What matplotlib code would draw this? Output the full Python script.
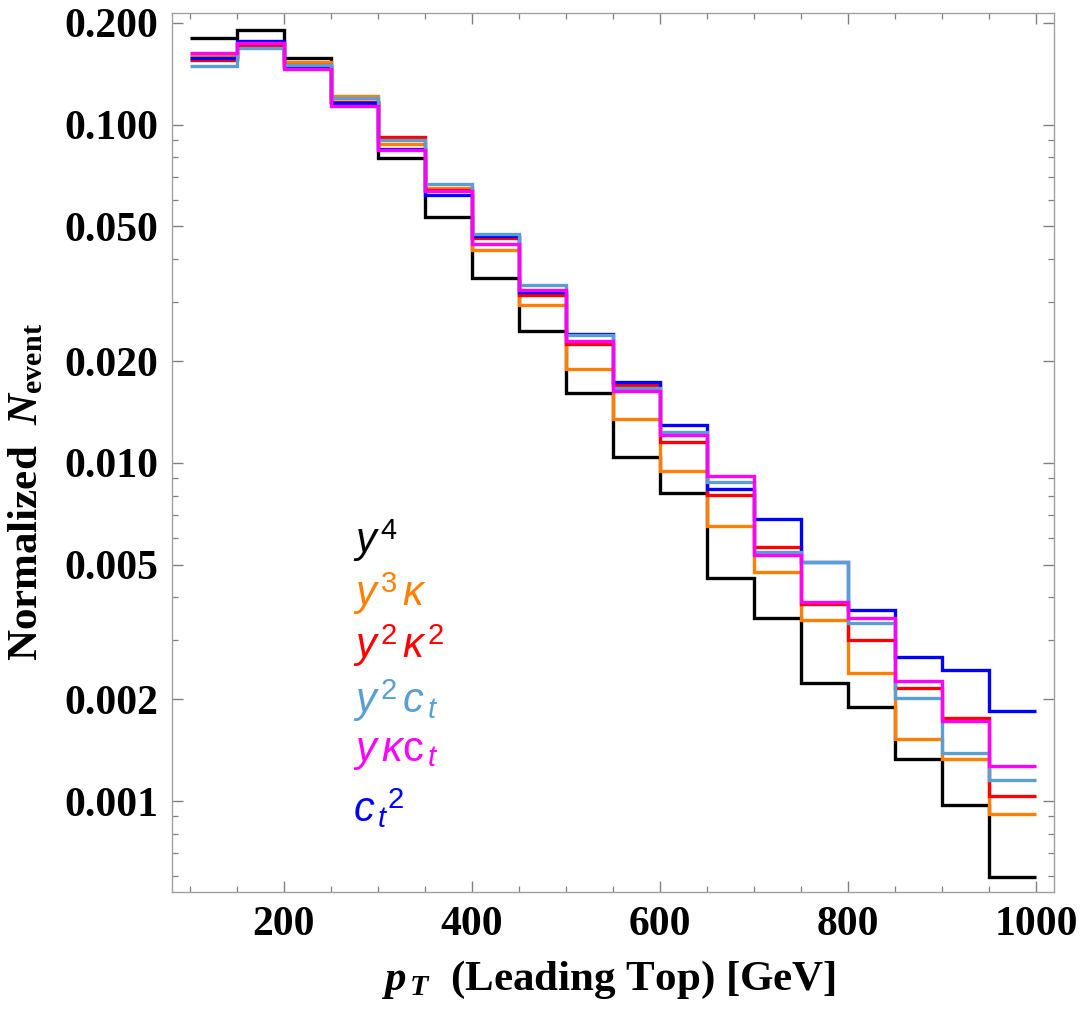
import matplotlib
matplotlib.use("Agg")
import matplotlib.pyplot as plt
from matplotlib.ticker import FixedLocator, FixedFormatter, NullFormatter

plt.rcParams["mathtext.fontset"] = "custom"
plt.rcParams["mathtext.rm"] = "Liberation Serif:bold"
plt.rcParams["mathtext.it"] = "Liberation Serif:italic:bold"
plt.rcParams["mathtext.bf"] = "Liberation Sans:italic"
plt.rcParams["mathtext.sf"] = "Liberation Sans"

# bin edges in GeV
bin_edges = [100, 150, 200, 250, 300, 350, 400, 450, 500, 550,
             600, 650, 700, 750, 800, 850, 900, 950, 1000]

y4 = [0.180, 0.190, 0.157, 0.117, 0.0795, 0.0533, 0.0353, 0.0246, 0.0161,
      0.0104, 0.00813, 0.00456, 0.00348, 0.00224, 0.00190, 0.00133, 0.000973, 0.000597]
y3k = [0.160, 0.174, 0.1536, 0.1218, 0.0879, 0.0648, 0.0425, 0.0293, 0.0190,
       0.0135, 0.00945, 0.00652, 0.00476, 0.00343, 0.00239, 0.00153, 0.00133, 0.000915]
y2k2 = [0.1553, 0.1718, 0.150, 0.1164, 0.0917, 0.0640, 0.0463, 0.0313, 0.02245,
        0.0170, 0.0115, 0.00806, 0.00565, 0.00382, 0.00300, 0.00216, 0.00176, 0.001035]
y2ct = [0.1495, 0.1686, 0.1498, 0.1196, 0.0899, 0.0670, 0.0475, 0.0335, 0.0239,
        0.01664, 0.01233, 0.00877, 0.00544, 0.00510, 0.00337, 0.00202, 0.00139, 0.00115]
ykct = [0.163, 0.1746, 0.146, 0.1138, 0.0843, 0.0635, 0.0444, 0.0325, 0.0230,
        0.01633, 0.0121, 0.00915, 0.00535, 0.00389, 0.00347, 0.00226, 0.00172, 0.00127]
ct2 = [0.157, 0.1764, 0.148, 0.116, 0.0849, 0.0618, 0.0470, 0.0321, 0.0240,
       0.0174, 0.01296, 0.00836, 0.00681, 0.00510, 0.00366, 0.00266, 0.00244, 0.00185]

labels = [
    r"$\mathbf{y}^{\,\mathsf{4}}$",
    r"$\mathbf{y}^{\,\mathsf{3}}\,\mathbf{\kappa}$",
    r"$\mathbf{y}^{\,\mathsf{2}}\,\mathbf{\kappa}^{\,\mathsf{2}}$",
    r"$\mathbf{y}^{\,\mathsf{2}}\,\mathbf{c}_{\,\mathbf{t}}$",
    r"$\mathbf{y}\,\mathbf{\kappa}\mathsf{c}_{\,\mathbf{t}}$",
    r"$\mathbf{c}_{\,\mathbf{t}}{}^{\mathsf{2}}$",
]
series = [y4, y3k, y2k2, y2ct, ykct, ct2]
colors = ["#000000", "#ff8000", "#ff0000", "#5a9fd4", "#ff00ff", "#0000ff"]
draw_order = [0, 1, 2, 5, 3, 4]

y_ticks = [0.001, 0.002, 0.005, 0.01, 0.02, 0.05, 0.1, 0.2]
y_tick_labels = ["0.001", "0.002", "0.005", "0.010", "0.020", "0.050", "0.100", "0.200"]

fig = plt.figure(figsize=(10.84, 10.13), dpi=100)
ax = fig.add_axes([0.1587, 0.1194, 0.8136, 0.8678])

for i in draw_order:
    ax.stairs(series[i], bin_edges, baseline=None, color=colors[i], linewidth=2.4)

ax.set_yscale("log")
ax.set_xlim(81, 1019)
ax.set_ylim(0.000538, 0.214)

ax.xaxis.set_major_locator(FixedLocator([200, 400, 600, 800, 1000]))
ax.xaxis.set_minor_locator(FixedLocator(bin_edges))
ax.yaxis.set_major_locator(FixedLocator(y_ticks))
ax.yaxis.set_major_formatter(FixedFormatter(y_tick_labels))
minor_y = [0.0006, 0.0007, 0.0008, 0.0009, 0.003, 0.004, 0.006, 0.007, 0.008, 0.009,
           0.03, 0.04, 0.06, 0.07, 0.08, 0.09]
ax.yaxis.set_minor_locator(FixedLocator(minor_y))
ax.yaxis.set_minor_formatter(NullFormatter())

for s in ax.spines.values():
    s.set_color("#a0a0a0")
    s.set_linewidth(1.0)

ax.tick_params(which="both", direction="in", top=True, right=True, color="#808080")
ax.tick_params(which="major", length=8, width=1.0, pad=10)
ax.tick_params(which="minor", length=4.5, width=0.9)
for lab in ax.get_xticklabels() + ax.get_yticklabels():
    lab.set_fontfamily("Liberation Serif")
    lab.set_fontweight("bold")
    lab.set_fontsize(30)

fig.text(0.561, 1 - 980 / 1013, r"$p_{\,T}$  (Leading Top) [GeV]", ha="center",
         va="center", fontsize=31, fontfamily="Liberation Serif", fontweight="bold")
fig.text(27 / 1084, 1 - 492 / 1013, r"Normalized  $N_{\mathrm{event}}$", rotation=90,
         ha="center", va="center", fontsize=31, fontfamily="Liberation Serif",
         fontweight="bold")

baselines = [553, 606, 658, 713, 761, 822]
for lab, col, yb in zip(labels, colors, baselines):
    fig.text(353 / 1084, 1 - yb / 1013, lab, color=col, fontsize=30, ha="left",
             va="baseline")

fig.savefig("out.png", dpi=100)
